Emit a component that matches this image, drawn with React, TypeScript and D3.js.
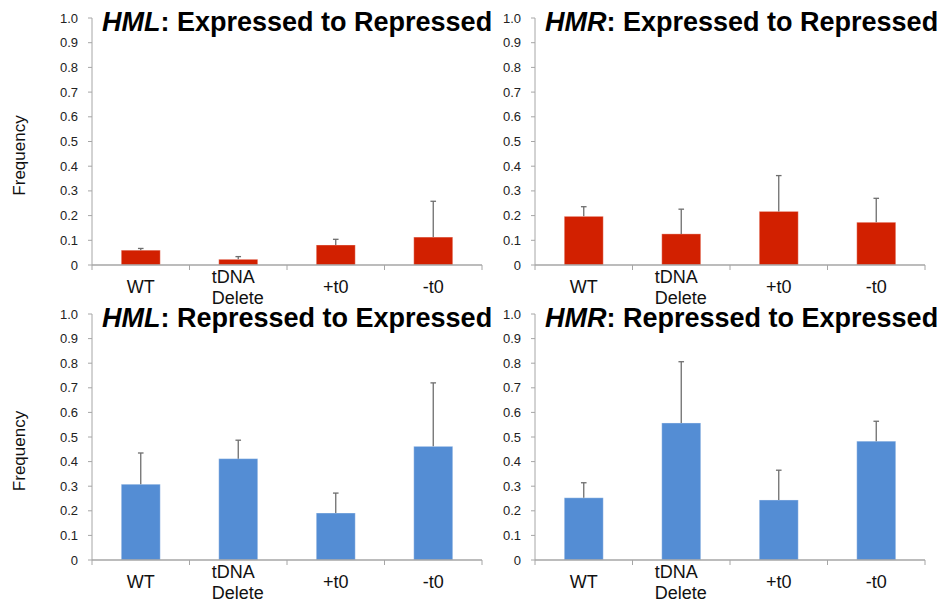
import React from "react";
import * as d3 from "d3";

const categories = ["WT", "tDNA\nDelete", "+t0", "-t0"];
const yTicks = [0, 0.1, 0.2, 0.3, 0.4, 0.5, 0.6, 0.7, 0.8, 0.9, 1.0];

const hmlExpToRep = [0.06, 0.023, 0.081, 0.113];
const hmlExpToRepErr = [0.007, 0.011, 0.023, 0.145];
const hmrExpToRep = [0.197, 0.126, 0.217, 0.173];
const hmrExpToRepErr = [0.039, 0.1, 0.145, 0.097];
const hmlRepToExp = [0.308, 0.412, 0.191, 0.462];
const hmlRepToExpErr = [0.127, 0.075, 0.081, 0.258];
const hmrRepToExp = [0.253, 0.557, 0.244, 0.483];
const hmrRepToExpErr = [0.061, 0.249, 0.121, 0.081];

const RED = "#D22000";
const BLUE = "#548DD4";

type PanelProps = {
  x0: number;
  top: number;
  bottom: number;
  locus: string;
  rest: string;
  values: number[];
  errs: number[];
  color: string;
  showYLabel: boolean;
};

function Panel({ x0, top, bottom, locus, rest, values, errs, color, showYLabel }: PanelProps) {
  const width = 390;
  const x = d3.scaleBand<string>().domain(categories).range([x0, x0 + width]).paddingInner(0.6).paddingOuter(0.3);
  const y = d3.scaleLinear().domain([0, 1]).range([bottom, top]);
  const step = x.step();
  const boundaries = d3.range(categories.length + 1).map((i) => x0 + i * (width / categories.length));
  const font = "Arial, 'Liberation Sans', sans-serif";
  return (
    <g>
      {/* y axis */}
      <line x1={x0} x2={x0} y1={y(0)} y2={y(1)} stroke="#A6A6A6" strokeWidth={1} />
      {yTicks.map((t) => (
        <g key={t}>
          <line x1={x0 - 4} x2={x0} y1={y(t)} y2={y(t)} stroke="#A6A6A6" strokeWidth={1} />
          <text x={x0 - 14} y={y(t)} dy="0.35em" textAnchor="end" fontSize={13} fontFamily={font} fill="#222">
            {t === 0 ? "0" : d3.format(".1f")(t)}
          </text>
        </g>
      ))}
      {/* bars */}
      {categories.map((c, i) => {
        const bx = x(c)!;
        const bw = x.bandwidth();
        const cx = bx + bw / 2;
        const v = values[i];
        const e = errs[i];
        return (
          <g key={c}>
            <rect x={bx} y={y(v)} width={bw} height={y(0) - y(v)} fill={color} stroke="#ffffff" strokeOpacity={0.35} strokeWidth={1} />
            <line x1={cx} x2={cx} y1={y(v)} y2={y(v + e)} stroke="#6E6E6E" strokeWidth={1.3} />
            <line x1={cx - 2.8} x2={cx + 2.8} y1={y(v + e)} y2={y(v + e)} stroke="#6E6E6E" strokeWidth={1.3} />
          </g>
        );
      })}
      {/* x axis */}
      <line x1={x0} x2={x0 + width} y1={y(0)} y2={y(0)} stroke="#A6A6A6" strokeWidth={1.3} />
      {boundaries.map((bx, i) => (
        <line key={i} x1={bx} x2={bx} y1={y(0)} y2={y(0) + 5} stroke="#A6A6A6" strokeWidth={1} />
      ))}
      {categories.map((c) => {
        const cx = x(c)! + x.bandwidth() / 2;
        const lines = c.split("\n");
        if (lines.length === 1) {
          return (
            <text key={c} x={cx} y={y(0) + 28} textAnchor="middle" fontSize={18} fontFamily={font} fill="#111">
              {c}
            </text>
          );
        }
        return (
          <text key={c} x={cx - 26} y={y(0) + 18} fontSize={18} fontFamily={font} fill="#111">
            {lines.map((l, k) => (
              <tspan key={k} x={cx - 26.5} dy={k === 0 ? 0 : 21}>
                {l}
              </tspan>
            ))}
          </text>
        );
      })}
      {/* title */}
      <text x={x0 + 10} y={top + 13} fontSize={27} fontWeight="bold" fontFamily={font} fill="#000">
        <tspan fontStyle="italic">{locus}</tspan>
        <tspan>{rest}</tspan>
      </text>
      {showYLabel && (
        <text
          transform={`translate(${x0 - 67},${(top + bottom) / 2 + 14}) rotate(-90)`}
          textAnchor="middle"
          fontSize={17}
          fontFamily={font}
          fill="#111"
        >
          Frequency
        </text>
      )}
    </g>
  );
}

export default function App() {
  return (
    <svg width={945} height={602} style={{ position: "absolute", left: 0, top: 0, background: "#fff" }}>
      <rect width={945} height={602} fill="#fff" />
      <Panel x0={92} top={18} bottom={265} locus="HML" rest=": Expressed to Repressed" values={hmlExpToRep} errs={hmlExpToRepErr} color={RED} showYLabel />
      <Panel x0={535} top={18} bottom={265} locus="HMR" rest=": Expressed to Repressed" values={hmrExpToRep} errs={hmrExpToRepErr} color={RED} showYLabel={false} />
      <Panel x0={92} top={314} bottom={560} locus="HML" rest=": Repressed to Expressed" values={hmlRepToExp} errs={hmlRepToExpErr} color={BLUE} showYLabel />
      <Panel x0={535} top={314} bottom={560} locus="HMR" rest=": Repressed to Expressed" values={hmrRepToExp} errs={hmrRepToExpErr} color={BLUE} showYLabel={false} />
    </svg>
  );
}
